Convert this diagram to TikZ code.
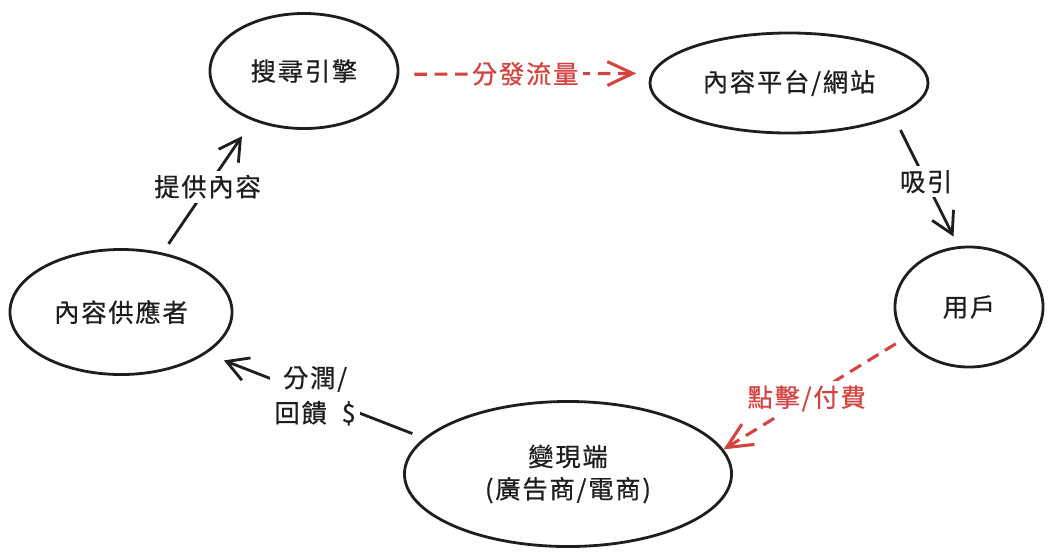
\documentclass[tikz,border=0pt]{standalone}
\usepackage{fontspec}
\usepackage{xcolor}
\usetikzlibrary{arrows.meta}
\usetikzlibrary{shapes.geometric}
\newfontfamily\cjk[LetterSpace=7,FakeBold=0.6]{Noto Sans CJK TC}
\definecolor{inkblack}{HTML}{1E1E1E}
\definecolor{flowred}{HTML}{D4433F}

\begin{document}
\begin{tikzpicture}[x=0.025cm,y=-0.025cm,
        every node/.style={text=inkblack,font=\cjk\fontsize{18}{23}\selectfont},
        bubble/.style={ellipse,draw=inkblack,line width=2pt,inner sep=0pt},
        link/.style={inkblack,line width=2pt,-{Straight Barb[length=15pt,width=17pt]}},
        redlink/.style={flowred,line width=2.2pt,dash pattern=on 9pt off 5.5pt,-{Straight Barb[length=18pt,width=17pt]}},
        tag/.style={fill=white,inner sep=3pt}]
    \useasboundingbox (0,0) rectangle (1050,554);

    \node[bubble,minimum width=4.7cm,minimum height=2.875cm] (search) at (304,71) {搜尋引擎};
    \node[bubble,minimum width=6.95cm,minimum height=2.5cm] (platform) at (789,83) {內容平台/網站};
    \node[bubble,minimum width=3.7cm,minimum height=3cm] (user) at (969,307) {用戶};
    \node[bubble,minimum width=8.175cm,minimum height=3.625cm,align=center] (monetize) at (568,474) {變現端\\(廣告商/電商)};
    \node[bubble,minimum width=5.55cm,minimum height=3.125cm] (provider) at (121,312) {內容供應者};

    \draw[redlink,shorten <=0.375cm,shorten >=0.37cm] (search.-2) -- node[tag,text=flowred]{分發流量} (platform.176);
    \draw[link,shorten <=0.36cm,shorten >=0.27cm] (platform.-18.6) -- node[tag]{吸引} (user.100.5);
    \draw[redlink,shorten <=0.25cm] (user.-154) -- node[tag,text=flowred,pos=0.54]{點擊/付費} (monetize.9);
    \draw[link,shorten <=0.31cm,shorten >=0.47cm] (monetize.166.5) -- node[tag,align=center]{分潤/\\[2pt]回饋\ \ \$} (provider.-26.2);
    \draw[link,shorten <=0.265cm,shorten >=0.47cm] (provider.55.5) -- node[tag]{提供內容} (search.-136);

\end{tikzpicture}
\end{document}
